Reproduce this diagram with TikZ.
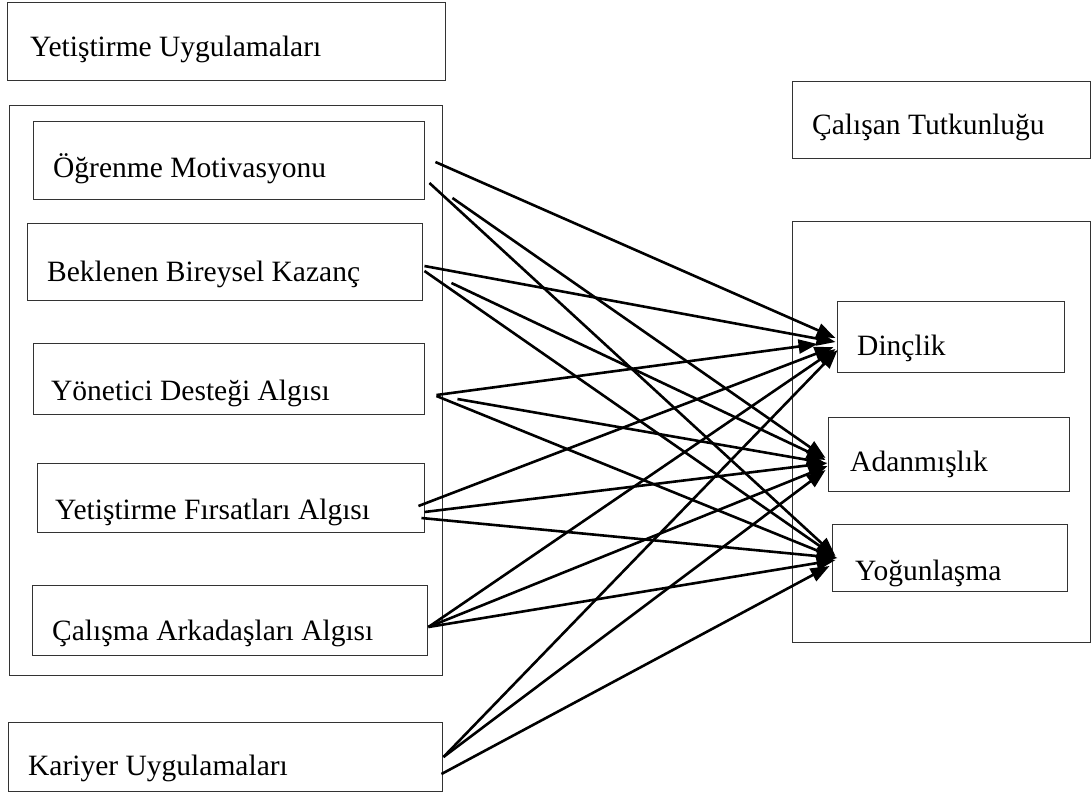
\documentclass[tikz,border=0pt]{standalone}
\usepackage{fontspec}
\setmainfont{Liberation Serif}
\usetikzlibrary{calc,arrows.meta}
\begin{document}
\begin{tikzpicture}[x=1pt,y=-1pt,
  box/.style={draw=black!80,line width=0.9pt,inner sep=0pt,rectangle},
  lbl/.style={anchor=base west,inner sep=0pt,font=\fontsize{29.5}{34}\selectfont},
  arr/.style={draw=black,line width=2.6pt,-{Triangle[length=19pt,width=14pt]}}]
\useasboundingbox (0,0) rectangle (1092,796);
% left side boxes
\node[box,minimum width=438pt,minimum height=78pt] (yu) at (226,41) {};
\node[box,minimum width=433pt,minimum height=570pt] (big) at (225.5,390) {};
\node[box,minimum width=391pt,minimum height=78pt] (om) at (228.5,160) {};
\node[box,minimum width=395pt,minimum height=77pt] (bbk) at (224.5,261.5) {};
\node[box,minimum width=391pt,minimum height=71pt] (yda) at (228.5,378.5) {};
\node[box,minimum width=387pt,minimum height=69pt] (yfa) at (230.5,497.5) {};
\node[box,minimum width=395pt,minimum height=70pt] (caa) at (229.5,620) {};
\node[box,minimum width=434pt,minimum height=69pt] (ku) at (225,756.5) {};
% right side boxes
\node[box,minimum width=298.5pt,minimum height=77pt] (ct) at (941.25,119.5) {};
\node[box,minimum width=298.5pt,minimum height=421pt] (rbig) at (941.25,431.5) {};
\node[box,minimum width=227pt,minimum height=71pt] (dinc) at (950.5,336.5) {};
\node[box,minimum width=241pt,minimum height=74pt] (adan) at (948.5,454) {};
\node[box,minimum width=235pt,minimum height=67pt] (yog) at (949.5,557.5) {};
% labels
\node[lbl] (tyu) at (30,56) {Yetiştirme Uygulamaları};
\node[lbl] (tom) at (53,177) {Öğrenme Motivasyonu};
\node[lbl] (tbbk) at (47,281) {Beklenen Bireysel Kazanç};
\node[lbl] (tyda) at (51,400) {Yönetici Desteği Algısı};
\node[lbl] (tyfa) at (55,519) {Yetiştirme Fırsatları Algısı};
\node[lbl] (tcaa) at (52,640) {Çalışma Arkadaşları Algısı};
\node[lbl] (tku) at (28,775) {Kariyer Uygulamaları};
\node[lbl] (tct) at (812,134) {Çalışan Tutkunluğu};
\node[lbl] (tdinc) at (857,355) {Dinçlik};
\node[lbl] (tadan) at (850,471) {Adanmışlık};
\node[lbl] (tyog) at (855,580) {Yoğunlaşma};
% arrows from Öğrenme Motivasyonu
\draw[arr] ($(om.east)+(11,2)$) -- ($(dinc.west)+(-1,1.5)$);
\draw[arr] ($(om.east)+(5,23)$) -- ($(yog.west)+(4,-1.5)$);
\draw[arr] ($(om.east)+(28,38)$) -- ($(adan.west)+(-2,4)$);
% arrows from Beklenen Bireysel Kazanç
\draw[arr] ($(bbk.east)+(2,4.5)$) -- ($(dinc.west)+(-1,5.5)$);
\draw[arr] ($(bbk.east)+(2,9.5)$) -- ($(yog.west)+(4,-0.5)$);
\draw[arr] ($(bbk.east)+(29,21.5)$) -- ($(adan.west)+(-2,6)$);
% arrows from Yönetici Desteği Algısı
\draw[arr] ($(yda.east)+(12,16.5)$) -- ($(dinc.west)+(-19,7.5)$);
\draw[arr] ($(yda.east)+(12,17.5)$) -- ($(yog.west)+(4,0.5)$);
\draw[arr] ($(yda.east)+(33,20.5)$) -- ($(adan.west)+(-2,9)$);
% arrows from Yetiştirme Fırsatları Algısı
\draw[arr] ($(yfa.east)+(-6,8.5)$) -- ($(dinc.west)+(-3,10.5)$);
\draw[arr] ($(yfa.east)+(0,14.5)$) -- ($(adan.west)+(0,9)$);
\draw[arr] ($(yfa.east)+(-3,20.5)$) -- ($(yog.west)+(6,0.5)$);
% arrows from Çalışma Arkadaşları Algısı
\draw[arr] ($(caa.east)+(1,7)$) -- ($(dinc.west)+(-1,12.5)$);
\draw[arr] ($(caa.east)+(1,7)$) -- ($(adan.west)+(0,12)$);
\draw[arr] ($(caa.east)+(1,7)$) -- ($(yog.west)+(4,2.5)$);
% arrows from Kariyer Uygulamaları
\draw[arr] ($(ku.east)+(1,0.5)$) -- ($(dinc.west)+(1,13.5)$);
\draw[arr] ($(ku.east)+(1,0.5)$) -- ($(adan.west)+(-2,16)$);
\draw[arr] ($(ku.east)+(-1,17.5)$) -- ($(yog.west)+(-2,8.5)$);
\end{tikzpicture}
\end{document}
